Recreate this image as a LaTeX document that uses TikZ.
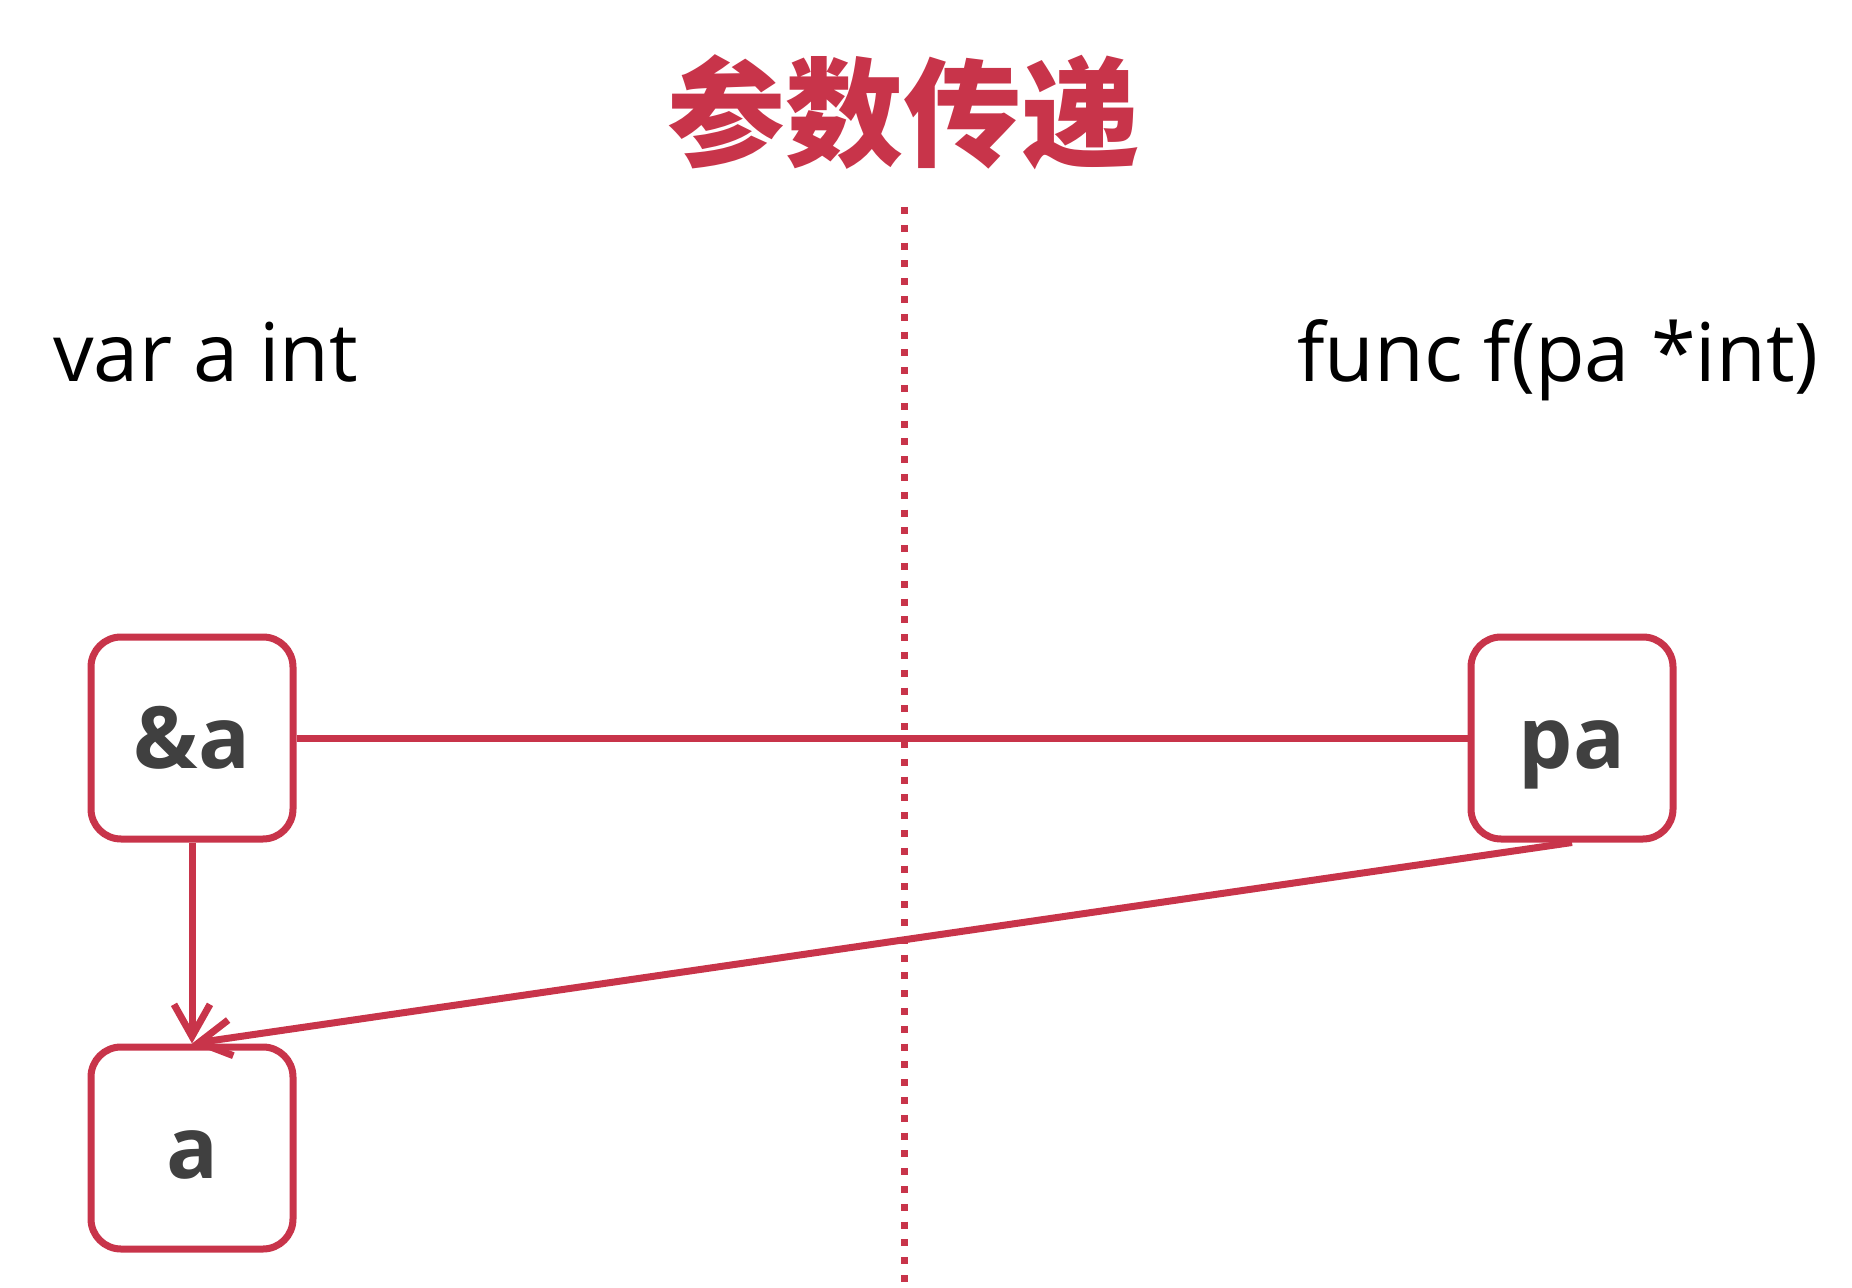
\documentclass[tikz,border=0pt]{standalone}
\usepackage{fontspec}
\setmainfont{Open Sans}
\newfontfamily\cjk{Noto Sans CJK SC}
\usetikzlibrary{arrows.meta}
\definecolor{crimson}{RGB}{200,52,74}
\definecolor{ink}{RGB}{64,64,64}
\begin{document}
\begin{tikzpicture}[
x=0.5pt, y=-0.5pt,
box/.style={
draw=crimson,
line width=3.5pt,
rounded corners=15pt,
fill=white,
text=ink,
font=\fontsize{43}{50}\selectfont\bfseries,
text height=30.5pt,
text depth=0pt,
minimum width=101pt,
minimum height=101pt
},
link/.style={
draw=crimson,
line width=3.5pt
},
code/.style={
inner sep=0pt,
font=\fontsize{40.5}{48}\selectfont
}
]
\useasboundingbox (0,0) rectangle (1852,1288);

\node[inner sep=0pt, text=crimson, font=\cjk\bfseries\fontsize{59}{60}\selectfont]
(title) at (903,112) {参数传递};

\node[code, anchor=base west] (var) at (53,382)
{var a int};

\node[code, anchor=base west] (func) at (1297,382)
{func f(pa *int)};

\node[box] (amp) at (192,738)
{\&a};

\node[box] (pa) at (1572,738)
{pa};

\node[box] (a) at (192,1148)
{a};

\draw[link] (amp) -- (pa);
\draw[link, -{Straight Barb[length=16pt, width=18pt]}] (amp) -- (a);
\draw[link, -{Straight Barb[length=16pt, width=18pt]}] (pa.south) -- (a.north);

% dotted divider on top
\coordinate (top) at (904,207);
\coordinate (bottom) at (904,1288);
\draw[crimson, line width=3.5pt, dash pattern=on 3.5pt off 5.4pt] (top) -- (bottom);

\end{tikzpicture}
\end{document}
